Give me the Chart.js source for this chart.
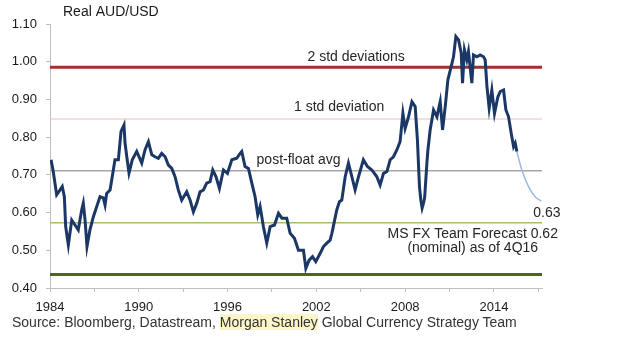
<!DOCTYPE html>
<html>
<head>
<meta charset="utf-8">
<script src="https://cdn.jsdelivr.net/npm/chart.js@4/dist/chart.umd.min.js"></script>
<style>
    html, body { margin: 0; padding: 0; background: #fff; }
    #wrap { position: relative; width: 620px; height: 348px; }
    #source {
        position: absolute;
        left: 12px;
        top: 314px;
        font: 14px "Liberation Sans", Arial, sans-serif;
        color: #333;
        white-space: nowrap;
    }
    #source .hl { background: #fbf6c8; }
</style>
</head>
<body>
<div id="wrap">
    <canvas id="chart" width="620" height="348"></canvas>
    <div id="source">Source: Bloomberg, Datastream, <span class="hl">Morgan Stanley</span> Global Currency Strategy Team</div>
</div>
<script>
// Real AUD/USD, sampled by date (decimal year)
const years = [
    1984.07, 1984.22, 1984.45, 1984.68, 1984.83, 1984.97, 1985.06, 1985.24, 1985.47, 1985.69,
    1985.91, 1986.14, 1986.25, 1986.37, 1986.50, 1986.70, 1986.93, 1987.16, 1987.38, 1987.60,
    1987.72, 1987.83, 1988.06, 1988.28, 1988.39, 1988.62, 1988.80, 1989.00, 1989.07, 1989.19,
    1989.34, 1989.56, 1989.86, 1990.20, 1990.42, 1990.65, 1990.88, 1991.10, 1991.32, 1991.55,
    1991.78, 1992.00, 1992.23, 1992.45, 1992.67, 1992.90, 1993.24, 1993.47, 1993.69, 1993.92,
    1994.14, 1994.37, 1994.59, 1994.82, 1995.00, 1995.22, 1995.45, 1995.72, 1995.99, 1996.29,
    1996.62, 1996.85, 1996.96, 1997.18, 1997.41, 1997.64, 1997.86, 1998.04, 1998.20, 1998.42,
    1998.65, 1998.88, 1999.17, 1999.44, 1999.67, 2000.00, 2000.23, 2000.52, 2000.79, 2001.13,
    2001.29, 2001.51, 2001.74, 2001.96, 2002.26, 2002.48, 2002.71, 2002.93, 2003.05, 2003.38,
    2003.56, 2003.72, 2003.95, 2004.17, 2004.40, 2004.62, 2004.85, 2005.18, 2005.45, 2005.75,
    2006.09, 2006.31, 2006.54, 2006.77, 2006.99, 2007.21, 2007.44, 2007.66, 2007.85, 2008.00,
    2008.23, 2008.46, 2008.68, 2008.83, 2008.97, 2009.06, 2009.15, 2009.24, 2009.32, 2009.47,
    2009.54, 2009.69, 2009.92, 2010.15, 2010.37, 2010.53, 2010.71, 2010.89, 2011.11, 2011.27,
    2011.43, 2011.61, 2011.79, 2011.88, 2012.01, 2012.17, 2012.28, 2012.51, 2012.62, 2012.85,
    2013.07, 2013.30, 2013.41, 2013.53, 2013.68, 2013.86, 2014.04, 2014.27, 2014.43, 2014.65,
    2014.81, 2014.99, 2015.17, 2015.33, 2015.44, 2015.55
];
const realRate = [
    0.740, 0.709, 0.647, 0.660, 0.669, 0.642, 0.563, 0.514, 0.580, 0.567,
    0.554, 0.607, 0.625, 0.580, 0.510, 0.554, 0.589, 0.616, 0.642, 0.639,
    0.620, 0.651, 0.660, 0.713, 0.740, 0.740, 0.815, 0.832, 0.785, 0.748,
    0.705, 0.740, 0.762, 0.731, 0.766, 0.788, 0.753, 0.748, 0.744, 0.757,
    0.748, 0.726, 0.717, 0.695, 0.660, 0.633, 0.655, 0.633, 0.602, 0.625,
    0.655, 0.660, 0.678, 0.682, 0.713, 0.695, 0.664, 0.713, 0.704, 0.740,
    0.744, 0.757, 0.762, 0.722, 0.717, 0.678, 0.642, 0.594, 0.616, 0.563,
    0.519, 0.563, 0.567, 0.598, 0.585, 0.585, 0.545, 0.532, 0.500, 0.500,
    0.452, 0.474, 0.483, 0.470, 0.492, 0.510, 0.519, 0.527, 0.545, 0.607,
    0.629, 0.633, 0.695, 0.731, 0.695, 0.660, 0.695, 0.740, 0.722, 0.713,
    0.695, 0.673, 0.704, 0.709, 0.740, 0.748, 0.766, 0.788, 0.863, 0.823,
    0.854, 0.894, 0.881, 0.793, 0.669, 0.633, 0.612, 0.625, 0.640, 0.731,
    0.766, 0.819, 0.872, 0.854, 0.894, 0.819, 0.881, 0.952, 0.987, 1.013,
    1.067, 1.058, 1.023, 0.943, 1.031, 1.005, 1.027, 0.943, 1.018, 1.013,
    1.018, 1.013, 1.005, 0.934, 0.877, 0.925, 0.863, 0.907, 0.921, 0.925,
    0.872, 0.854, 0.810, 0.775, 0.784, 0.762
];

// MS FX team path to 4Q16
const forecastYears = [2015.55, 2015.89, 2016.34, 2016.79, 2017.20];
const forecastRate = [0.762, 0.713, 0.669, 0.642, 0.630];

// Reference levels: 2 std, 1 std, post-float average, -1 std, -2 std
const refLevels = [0.985, 0.848, 0.711, 0.573, 0.436];

const xTicks = [1984, 1987, 1990, 1993, 1996, 1999, 2002, 2005, 2008, 2011, 2014, 2017];
const xLabels = [1984, 1990, 1996, 2002, 2008, 2014];
const yTicks = [0.4, 0.5, 0.6, 0.7, 0.8, 0.9, 1.0, 1.1];

const X_MIN = 1984;
const X_MAX = 2017.25;

const FONT = '"Liberation Sans", Arial, sans-serif';

const REF_STYLES = [
    { color: '#a3302c', width: 3 },
    { color: '#f2bcbc', width: 1 },
    { color: '#a6a6a6', width: 1.5 },
    { color: '#a5bd6a', width: 1.5 },
    { color: '#4f6228', width: 3 }
];

// text placed in data coordinates
const NOTES = [
    { text: '2 std deviations', x: 2004.69, y: 1.013, align: 'center' },
    { text: '1 std deviation', x: 2003.54, y: 0.880, align: 'center' },
    { text: 'post-float avg', x: 2000.80, y: 0.740, align: 'center' },
    { text: '0.63', x: 2016.66, y: 0.599, align: 'left' },
    { text: 'MS FX Team Forecast 0.62', x: 2012.57, y: 0.543, align: 'center' },
    { text: '(nominal) as of 4Q16', x: 2012.57, y: 0.506, align: 'center' }
];

const notesPlugin = {
    id: 'notes',
    afterDraw(chart) {
        const { ctx, scales } = chart;
        ctx.save();
        ctx.fillStyle = '#262626';
        ctx.font = '14px ' + FONT;
        ctx.textBaseline = 'middle';
        NOTES.forEach(n => {
            ctx.textAlign = n.align;
            ctx.fillText(n.text, scales.x.getPixelForValue(n.x), scales.y.getPixelForValue(n.y));
        });
        // axis title
        ctx.textAlign = 'left';
        ctx.fillStyle = '#1a1a1a';
        ctx.fillText('Real AUD/USD', 63, 12);
        ctx.restore();
    }
};

const refDatasets = refLevels.map((level, i) => ({
    data: [{ x: X_MIN, y: level }, { x: X_MAX, y: level }],
    borderColor: REF_STYLES[i].color,
    borderWidth: REF_STYLES[i].width,
    pointRadius: 0,
    order: 10 + i
}));

new Chart(document.getElementById('chart').getContext('2d'), {
    type: 'line',
    data: {
        datasets: [
            {
                label: 'Real AUD/USD',
                data: years.map((y, i) => ({ x: y, y: realRate[i] })),
                borderColor: '#1b3766',
                borderWidth: 3,
                pointRadius: 0,
                tension: 0,
                order: 0
            },
            {
                label: 'Forecast',
                data: forecastYears.map((y, i) => ({ x: y, y: forecastRate[i] })),
                borderColor: '#9dbbe0',
                borderWidth: 1.5,
                pointRadius: 0,
                tension: 0.4,
                order: 1
            },
            ...refDatasets
        ]
    },
    options: {
        responsive: false,
        animation: false,
        layout: {
            padding: { top: 24, right: 78, left: 0, bottom: 0 }
        },
        plugins: {
            legend: { display: false },
            tooltip: { enabled: false }
        },
        scales: {
            x: {
                type: 'linear',
                min: X_MIN,
                max: X_MAX,
                afterBuildTicks: s => { s.ticks = xTicks.map(v => ({ value: v })); },
                afterFit: s => { s.height = 60; },
                grid: { drawOnChartArea: false, tickLength: 4, color: '#bfbfbf' },
                border: { color: '#bfbfbf' },
                ticks: {
                    autoSkip: false,
                    maxRotation: 0,
                    padding: 8,
                    color: '#1a1a1a',
                    font: { family: FONT, size: 13 },
                    callback: v => xLabels.includes(v) ? String(v) : ''
                }
            },
            y: {
                min: 0.4,
                max: 1.1,
                afterBuildTicks: s => { s.ticks = yTicks.map(v => ({ value: v })); },
                afterFit: s => { s.width = 50; },
                grid: { drawOnChartArea: false, tickLength: 4, color: '#bfbfbf' },
                border: { color: '#bfbfbf' },
                ticks: {
                    padding: 9,
                    color: '#1a1a1a',
                    font: { family: FONT, size: 13 },
                    callback: v => v.toFixed(2)
                }
            }
        }
    },
    plugins: [notesPlugin]
});
</script>
</body>
</html>
